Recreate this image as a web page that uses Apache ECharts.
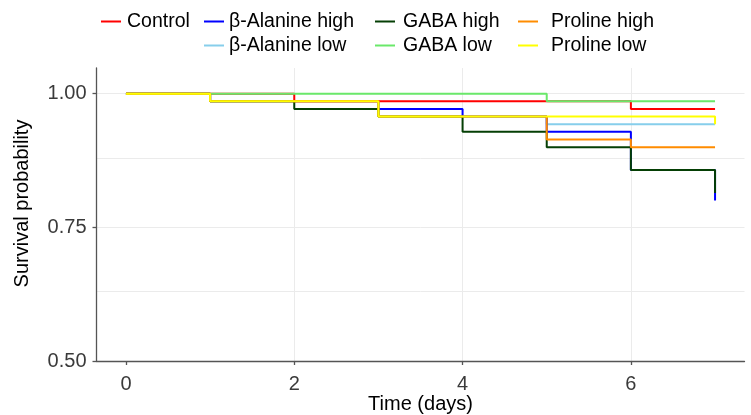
<!DOCTYPE html>
<html>
<head>
<meta charset="utf-8">
<script src="https://cdn.jsdelivr.net/npm/echarts@6/dist/echarts.min.js"></script>
<style>html,body{margin:0;padding:0;background:#fff}#c{width:751px;height:415px}</style>
</head>
<body>
<div id="c"></div>
<script>
// Kaplan-Meier step points [time, survival]
const control      = [[0,1],[2,0.9857],[6,0.9714],[7,0.9714]];
const alanineHigh  = [[0,1],[1,0.9857],[3,0.9714],[4,0.9571],[5,0.9286],[6,0.8571],[7,0.8]];
const alanineLow   = [[0,1],[1,0.9857],[3,0.9571],[5,0.9429],[7,0.9429]];
const gabaHigh     = [[0,1],[1,0.9857],[2,0.9714],[3,0.9571],[4,0.9286],[5,0.9],[6,0.8571],[7,0.8143]];
const gabaLow      = [[0,1],[5,0.9857],[7,0.9857]];
const prolineHigh  = [[0,1],[1,0.9857],[3,0.9571],[5,0.9143],[6,0.9],[7,0.9]];
const prolineLow   = [[0,1],[1,0.9857],[3,0.9571],[7,0.9429]];

const xTicks = [0,2,4,6];
const yTicks = [0.5,0.75,1.0];
const xGrid = [2,4,6];
const yGrid = [0.625,0.75,0.875,1.0];

const FONT = 'Liberation Sans, Arial, sans-serif';
const FS = 20;
const LFS = 19.5;

function km(name, data, color, z) {
  return {
    name: name, type: 'line', data: data, step: 'end',
    symbol: 'none', showSymbol: false, z: z,
    lineStyle: { color: color, width: 2 },
    itemStyle: { color: color },
    emphasis: { disabled: true }
  };
}

function legendBox(names, left, extraPad) {
  return {
    orient: 'vertical', left: left, top: 6,
    icon: 'rect', itemWidth: 20, itemHeight: 2, itemGap: 3,
    data: names, selectedMode: false,
    textStyle: { fontFamily: FONT, fontSize: LFS, color: '#000', lineHeight: 21,
                 padding: [0, 0, 0, extraPad] }
  };
}

const chart = echarts.init(document.getElementById('c'), null, { renderer: 'canvas' });
chart.setOption({
  animation: false,
  backgroundColor: '#fff',
  grid: { left: 96.5, top: 68, width: 648, height: 293, containLabel: false, outerBoundsMode: 'none' },
  legend: [
    legendBox(['Control'], 96, 1),
    legendBox(['β-Alanine high', 'β-Alanine low'], 199, 0),
    legendBox(['GABA high', 'GABA low'], 370, 3),
    legendBox(['Proline high', 'Proline low'], 513, 8)
  ],
  xAxis: {
    type: 'value', min: -0.35, max: 7.35,
    name: 'Time (days)', nameLocation: 'middle', nameGap: 33, nameMoveOverlap: false,
    nameTextStyle: { fontFamily: FONT, fontSize: FS, color: '#000' },
    axisLine: { show: true, onZero: false, lineStyle: { color: '#555', width: 1.3 } },
    axisTick: { show: true, length: 4, customValues: xTicks, lineStyle: { color: '#555', width: 1.3 } },
    axisLabel: { customValues: xTicks, margin: 13, fontFamily: FONT, fontSize: FS, color: '#3a3a3a' },
    splitLine: { show: false }
  },
  yAxis: {
    type: 'value', min: 0.5, max: 1.048,
    name: 'Survival probability', nameLocation: 'middle', nameGap: 64, nameRotate: 90,
    nameMoveOverlap: false,
    nameTextStyle: { fontFamily: FONT, fontSize: FS, color: '#000', padding: [0, 0, 0, 22] },
    axisLine: { show: true, onZero: false, lineStyle: { color: '#555', width: 1.3 } },
    axisTick: { show: true, length: 4, customValues: yTicks, lineStyle: { color: '#555', width: 1.3 } },
    axisLabel: { customValues: yTicks, margin: 10, fontFamily: FONT, fontSize: FS, color: '#3a3a3a',
                 formatter: function (v) { return v.toFixed(2); } },
    splitLine: { show: false }
  },
  series: [
    {
      name: 'grid', type: 'line', data: [], z: 0, silent: true,
      markLine: {
        z: 0, silent: true, symbol: 'none', label: { show: false }, animation: false,
        lineStyle: { color: '#ebebeb', width: 1, type: 'solid' },
        emphasis: { disabled: true },
        data: xGrid.map(function (v) { return { xAxis: v }; })
          .concat(yGrid.map(function (v) { return { yAxis: v }; }))
      }
    },
    km('β-Alanine low', alanineLow, '#87ceeb', 2),
    km('β-Alanine high', alanineHigh, '#0000ff', 3),
    km('GABA high', gabaHigh, '#053f05', 4),
    km('Control', control, '#ff0000', 5),
    km('GABA low', gabaLow, '#6ae86a', 6),
    km('Proline high', prolineHigh, '#ff8c00', 7),
    km('Proline low', prolineLow, '#ffff00', 8)
  ]
});
</script>
</body>
</html>
